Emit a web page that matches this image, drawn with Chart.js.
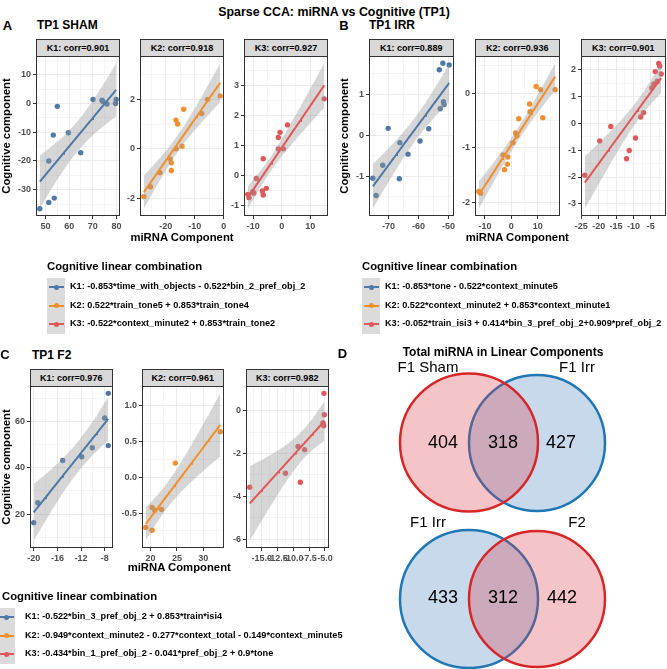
<!DOCTYPE html>
<html>
<head>
<meta charset="utf-8">
<script src="https://cdn.jsdelivr.net/npm/chart.js@4.4.1/dist/chart.umd.min.js"></script>
<style>
  body { margin: 0; width: 667px; height: 669px; position: relative; overflow: hidden; background: #fff; }
  canvas { position: absolute; }
  .t { position: absolute; white-space: nowrap; line-height: 1; color: #000; font-family: "Liberation Sans", Arial, sans-serif; }
  .frame { position: absolute; border: 1px solid #333; box-sizing: border-box; }
  .strip { position: absolute; border: 1px solid #333; box-sizing: border-box; background: #D9D9D9; }
  .key { position: absolute; background: #DBDBDB; }
</style>
</head>
<body>
<script>
'use strict';

var kColors = ['#4E79A7', '#F28E2B', '#E15759'];
var legendTitle = 'Cognitive linear combination';

// TP1 SHAM
var shamCorr = ['K1: corr=0.901', 'K2: corr=0.918', 'K3: corr=0.927'];
var shamK1x = [47.6, 51.4, 53.7, 51.4, 53.3, 55.0, 59.7, 64.9, 70.1, 73.9, 74.3, 76.0, 79.6, 79.9];
var shamK1y = [-36.6, -34.4, -32.9, -20.0, -11.0, -1.0, -10.2, -17.1, 1.4, 1.1, 0.7, -0.2, 0.0, 1.4];
var shamK2x = [-27.6, -25.3, -22.0, -18.5, -18.1, -18.1, -16.5, -15.9, -16.4, -14.4, -13.8, -7.6, -5.6, -1.2];
var shamK2y = [-1.93, -1.53, -0.96, -0.40, -0.56, -0.87, 1.17, 1.01, 0.01, 0.11, 1.61, 1.44, 2.01, 2.15];
var shamK3x = [-11.9, -11.5, -10.1, -9.8, -8.9, -6.5, -6.8, -6.5, -5.4, -1.2, -0.6, -1.2, 0.6, 2.0, 14.9];
var shamK3y = [-0.64, -0.75, -0.55, -0.60, -0.11, 0.55, -0.53, -0.66, -0.44, 1.26, 1.43, 0.88, 0.88, 1.68, 2.55];
var shamXTicks = [['50', '60', '70', '80'], ['-20', '-10', '0'], ['-10', '0', '10']];
var shamYTicks = [['-30', '-20', '-10', '0', '10'], ['-2', '0', '2'], ['-1', '0', '1', '2', '3']];
var shamLegend = [
  'K1: -0.853*time_with_objects - 0.522*bin_2_pref_obj_2',
  'K2: 0.522*train_tone5 + 0.853*train_tone4',
  'K3: -0.522*context_minute2 + 0.853*train_tone2'
];

// TP1 IRR
var irrCorr = ['K1: corr=0.889', 'K2: corr=0.936', 'K3: corr=0.901'];
var irrK1x = [-75.2, -74.1, -71.9, -70.1, -66.2, -66.4, -63.5, -59.5, -56.6, -53.1, -51.9, -52.8, -51.7, -51.5, -49.8];
var irrK1y = [-1.05, -1.47, -0.73, 0.17, -0.18, -1.06, -0.46, -0.14, 0.16, 1.60, 1.76, 0.65, 0.82, 0.75, 1.72];
var irrK2x = [-12.3, -11.6, -3.1, -2.6, -1.5, -1.3, 0.6, 1.6, 2.1, 2.8, 6.9, 7.1, 9.4, 11.1, 11.9, 16.6];
var irrK2y = [-1.80, -1.83, -1.13, -1.40, -1.30, -1.17, -0.91, -0.73, -0.78, -0.47, -0.20, -0.34, 0.12, 0.06, -0.45, 0.06];
var irrK3x = [-24.0, -19.7, -16.5, -12.0, -11.2, -9.4, -7.9, -7.1, -4.7, -4.1, -3.7, -3.1, -2.7, -2.4, -2.0];
var irrK3y = [-1.93, -0.65, -0.11, -1.32, -1.01, -0.54, 0.24, 0.40, 1.33, 1.48, 1.94, 1.58, 2.24, 2.14, 1.85];
var irrXTicks = [['-70', '-60', '-50'], ['-10', '0', '10'], ['-25', '-20', '-15', '-10', '-5']];
var irrYTicks = [['-1', '0', '1'], ['-2', '-1', '0'], ['-3', '-2', '-1', '0', '1', '2']];
var irrLegend = [
  'K1: -0.853*tone - 0.522*context_minute5',
  'K2: 0.522*context_minute2 + 0.853*context_minute1',
  'K3: -0.052*train_isi3 + 0.414*bin_3_pref_obj_2+0.909*pref_obj_2'
];

// TP1 F2
var f2Corr = ['K1: corr=0.976', 'K2: corr=0.961', 'K3: corr=0.982'];
var f2K1x = [-20.0, -19.3, -15.1, -11.9, -10.1, -8.0, -7.4, -7.4];
var f2K1y = [16.3, 24.9, 43.1, 44.7, 48.6, 61.4, 72.0, 49.5];
var f2K2x = [19.1, 20.3, 20.8, 20.3, 22.1, 24.7, 33.2];
var f2K2y = [-0.70, -0.42, -0.46, -0.74, -0.45, 0.20, 0.64];
var f2K3x = [-16.9, -11.25, -9.25, -8.9, -8.2, -5.15, -5.1, -5.2, -5.3];
var f2K3y = [-3.57, -2.92, -1.67, -3.34, -1.82, 0.81, -0.19, -0.70, -0.57];
var f2XTicks = [['-20', '-16', '-12', '-8'], ['20', '25', '30'], ['-15.0', '-12.5', '-10.0', '-7.5', '-5.0']];
var f2YTicks = [['20', '40', '60'], ['-0.5', '0.0', '0.5', '1.0'], ['-6', '-4', '-2', '0']];
var f2Legend = [
  'K1: -0.522*bin_3_pref_obj_2 + 0.853*train*isi4',
  'K2: -0.949*context_minute2 - 0.277*context_total - 0.149*context_minute5',
  'K3: -0.434*bin_1_pref_obj_2 - 0.041*pref_obj_2 + 0.9*tone'
];

// Venn counts: [left only, both, right only]
var vennTopSets = ['F1 Sham', 'F1 Irr'];
var vennTopCounts = [404, 318, 427];
var vennBottomSets = ['F1 Irr', 'F2'];
var vennBottomCounts = [433, 312, 442];

// 97.5% t quantiles by degrees of freedom
var tQuantile = {5: 2.571, 6: 2.447, 7: 2.365, 8: 2.306, 9: 2.262, 10: 2.228,
  11: 2.201, 12: 2.179, 13: 2.160, 14: 2.145, 15: 2.131, 16: 2.120};

Chart.defaults.font.family = '"Liberation Sans", Arial, sans-serif';

var Y_AXIS_W = 30, X_AXIS_H = 22, PAD_TOP = 6, PAD_RIGHT = 12;

var panels = [
  { letter: 'A', title: 'TP1 SHAM', corr: shamCorr, xs: [shamK1x, shamK2x, shamK3x], ys: [shamK1y, shamK2y, shamK3y],
    xTicks: shamXTicks, yTicks: shamYTicks, legend: shamLegend,
    letterPos: [7.5, 24.5], titlePos: [37, 25], stripTop: 39, top: 56, bottom: 216,
    lefts: [36, 140, 244], width: 84, yTitleX: 7, xTitleY: 238,
    legTitleX: 47, legTitleY: 267, keyLeft: 47, keyTop: 278, textLeft: 70 },
  { letter: 'B', title: 'TP1 IRR', corr: irrCorr, xs: [irrK1x, irrK2x, irrK3x], ys: [irrK1y, irrK2y, irrK3y],
    xTicks: irrXTicks, yTicks: irrYTicks, legend: irrLegend,
    letterPos: [344, 25], titlePos: [369, 25], stripTop: 39, top: 56, bottom: 216,
    lefts: [369, 475, 581], width: 84.5, yTitleX: 344.5, xTitleY: 238,
    legTitleX: 362, legTitleY: 267, keyLeft: 362, keyTop: 278, textLeft: 385 },
  { letter: 'C', title: 'TP1 F2', corr: f2Corr, xs: [f2K1x, f2K2x, f2K3x], ys: [f2K1y, f2K2y, f2K3y],
    xTicks: f2XTicks, yTicks: f2YTicks, legend: f2Legend,
    letterPos: [5, 354], titlePos: [32, 355], stripTop: 369, top: 386, bottom: 548,
    lefts: [30, 141.5, 246], width: 82.5, yTitleX: 7, xTitleY: 568,
    legTitleX: 2, legTitleY: 597, keyLeft: -3, keyTop: 608, textLeft: 25 }
];

var vennLayout = [
  { sets: vennTopSets, counts: vennTopCounts, colors: ['red', 'blue'],
    circles: [[469, 442.5, 69], [537, 443, 68]], names: [[428, 368], [577, 368]],
    countPos: [[443, 443], [503, 443], [561, 443]] },
  { sets: vennBottomSets, counts: vennBottomCounts, colors: ['blue', 'red'],
    circles: [[469, 599, 69], [537, 599, 68]], names: [[428, 523], [577, 523]],
    countPos: [[443, 598], [503, 598], [562, 598]] }
];
var vennStyle = {
  red: { fill: 'rgba(220, 60, 75, 0.3)', stroke: '#D62728' },
  blue: { fill: 'rgba(70, 130, 190, 0.3)', stroke: '#1F77B4' }
};

function label(text, x, y, size, weight, align, extra) {
  var d = document.createElement('div');
  d.className = 't';
  d.textContent = text;
  d.style.left = x + 'px';
  d.style.top = y + 'px';
  d.style.fontSize = size + 'px';
  d.style.fontWeight = weight;
  d.style.transform = 'translate(' + (align === 'left' ? '0' : '-50%') + ', -50%)' + (extra || '');
  document.body.appendChild(d);
  return d;
}

function box(cls, left, top, width, height) {
  var d = document.createElement('div');
  d.className = cls;
  d.style.left = left + 'px';
  d.style.top = top + 'px';
  d.style.width = width + 'px';
  d.style.height = height + 'px';
  document.body.appendChild(d);
  return d;
}

// linear fit with 95% confidence band, like geom_smooth(method = "lm")
function lmFit(xs, ys) {
  var n = xs.length, mx = 0, my = 0, sxx = 0, sxy = 0, rss = 0, i;
  for (i = 0; i < n; i++) { mx += xs[i]; my += ys[i]; }
  mx /= n; my /= n;
  for (i = 0; i < n; i++) {
    sxx += (xs[i] - mx) * (xs[i] - mx);
    sxy += (xs[i] - mx) * (ys[i] - my);
  }
  var b = sxy / sxx, a = my - b * mx;
  for (i = 0; i < n; i++) {
    var e = ys[i] - a - b * xs[i];
    rss += e * e;
  }
  var s = Math.sqrt(rss / (n - 2)), t = tQuantile[n - 2];
  var lo = Math.min.apply(null, xs), hi = Math.max.apply(null, xs);
  var fit = { line: [], upper: [], lower: [] };
  for (var k = 0; k < 80; k++) {
    var x = lo + (hi - lo) * k / 79;
    var yh = a + b * x;
    var se = s * Math.sqrt(1 / n + (x - mx) * (x - mx) / sxx);
    fit.line.push({ x: x, y: yh });
    fit.upper.push({ x: x, y: yh + t * se });
    fit.lower.push({ x: x, y: yh - t * se });
  }
  return fit;
}

function expand(vals) {
  var lo = Math.min.apply(null, vals), hi = Math.max.apply(null, vals);
  var d = (hi - lo) * 0.05;
  return [lo - d, hi + d];
}

function tickList(labels, range) {
  var vals = labels.map(Number);
  var step = vals[1] - vals[0];
  var out = labels.map(function(l, i) { return { value: vals[i], lbl: l, minor: false }; });
  for (var v = vals[0] - step / 2; v <= vals[vals.length - 1] + step; v += step) {
    if (v >= range[0] && v <= range[1]) out.push({ value: v, lbl: '', minor: true });
  }
  return out.sort(function(p, q) { return p.value - q.value; });
}

function axisOpts(range, ticks, isX) {
  return {
    type: 'linear', min: range[0], max: range[1],
    afterBuildTicks: function(scale) {
      scale.ticks = ticks.map(function(o) { return { value: o.value, lbl: o.lbl, minor: o.minor }; });
    },
    afterFit: function(scale) {
      if (isX) scale.height = X_AXIS_H; else scale.width = Y_AXIS_W;
      scale.paddingLeft = scale.paddingRight = scale.paddingTop = scale.paddingBottom = 0;
    },
    border: { display: false },
    grid: {
      color: '#EBEBEB',
      lineWidth: function(c) { return c.tick && c.tick.minor ? 0.5 : 1; },
      tickColor: function(c) { return c.tick && c.tick.minor ? 'rgba(0,0,0,0)' : '#333'; },
      tickWidth: 1, tickLength: 3
    },
    ticks: {
      autoSkip: false, maxRotation: 0, minRotation: 0, padding: 2,
      color: '#4D4D4D', font: { size: 9, weight: 'bold' },
      callback: function(v, i, all) { return all[i].lbl; }
    }
  };
}

function makePlot(p, k) {
  var left = p.lefts[k], w = p.width, h = p.bottom - p.top;
  var xs = p.xs[k], ys = p.ys[k], color = kColors[k];
  var fit = lmFit(xs, ys);
  var xRange = expand(xs);
  var yRange = expand(ys.concat(fit.upper.map(function(o) { return o.y; }), fit.lower.map(function(o) { return o.y; })));
  var pts = xs.map(function(x, i) { return { x: x, y: ys[i] }; });

  var cv = document.createElement('canvas');
  cv.width = w + Y_AXIS_W + PAD_RIGHT;
  cv.height = h + X_AXIS_H + PAD_TOP;
  cv.style.left = (left - Y_AXIS_W) + 'px';
  cv.style.top = (p.top - PAD_TOP) + 'px';
  document.body.appendChild(cv);

  new Chart(cv, {
    type: 'scatter',
    data: {
      datasets: [
        { type: 'line', data: fit.line, borderColor: color, borderWidth: 2, pointRadius: 0, fill: false },
        { type: 'line', data: fit.upper, borderColor: 'rgba(0,0,0,0)', borderWidth: 0, pointRadius: 0,
          fill: '+1', backgroundColor: 'rgba(153,153,153,0.4)' },
        { type: 'line', data: fit.lower, borderColor: 'rgba(0,0,0,0)', borderWidth: 0, pointRadius: 0, fill: false },
        { type: 'scatter', data: pts, pointRadius: 2.7, backgroundColor: color, borderWidth: 0 }
      ]
    },
    options: {
      responsive: false, animation: false, events: [],
      layout: { padding: { top: PAD_TOP, right: PAD_RIGHT, left: 0, bottom: 0 } },
      plugins: { legend: { display: false }, tooltip: { enabled: false } },
      scales: {
        x: axisOpts(xRange, tickList(p.xTicks[k], xRange), true),
        y: axisOpts(yRange, tickList(p.yTicks[k], yRange), false)
      }
    }
  });

  box('frame', left, p.top, w, h);
  box('strip', left, p.stripTop, w, p.top - p.stripTop + 1);
  label(p.corr[k], left + w / 2, (p.stripTop + p.top) / 2 + 0.5, 9, 'bold', 'center');
}

function makeLegend(p) {
  label(legendTitle, p.legTitleX, p.legTitleY, 11.3, 'bold', 'left');
  box('key', p.keyLeft, p.keyTop, 18, 18.5 * p.legend.length);
  p.legend.forEach(function(txt, i) {
    var cy = p.keyTop + 9.25 + 18.5 * i;
    var ln = box('t', p.keyLeft + 1.5, cy - 1, 15, 2);
    ln.style.background = kColors[i];
    var dot = box('t', p.keyLeft + 6.5, cy - 2.5, 5, 5);
    dot.style.background = kColors[i];
    dot.style.borderRadius = '50%';
    label(txt, p.textLeft, cy, 9.15, 'bold', 'left');
  });
}

label('Sparse CCA: miRNA vs Cognitive (TP1)', 334, 12, 12.4, 'bold', 'center');

panels.forEach(function(p) {
  label(p.letter, p.letterPos[0], p.letterPos[1], 13, 'bold', 'center');
  label(p.title, p.titlePos[0], p.titlePos[1], 12, 'bold', 'left');
  for (var k = 0; k < 3; k++) makePlot(p, k);
  label('Cognitive component', p.yTitleX, (p.top + p.bottom) / 2, 11.3, 'bold', 'center', ' rotate(-90deg)');
  label('miRNA Component', (p.lefts[0] + p.lefts[2] + p.width) / 2, p.xTitleY, 11.3, 'bold', 'center');
  makeLegend(p);
});

// Panel D: Venn diagrams, circle radius converted through the x scale
var vcv = document.createElement('canvas');
vcv.width = 324;
vcv.height = 329;
vcv.style.left = '343px';
vcv.style.top = '340px';
vcv.style.background = '#fff';
document.body.appendChild(vcv);

function circleRadius(ctx) {
  var s = ctx.chart.scales.x;
  if (!ctx.raw || !s || !(s.width > 0)) return 0;
  return s.getPixelForValue(ctx.raw.x + ctx.raw.rad) - s.getPixelForValue(ctx.raw.x);
}

var vennSets = [];
['red', 'blue'].forEach(function(col) {
  vennLayout.forEach(function(v) {
    v.circles.forEach(function(c, i) {
      if (v.colors[i] === col) {
        vennSets.push({
          type: 'scatter',
          data: [{ x: c[0], y: c[1], rad: c[2] }],
          pointBackgroundColor: vennStyle[col].fill,
          pointBorderColor: vennStyle[col].stroke,
          pointBorderWidth: 2.5,
          pointRadius: circleRadius
        });
      }
    });
  });
});

var vennText = {
  id: 'vennText',
  afterDatasetsDraw: function(chart) {
    var ctx = chart.ctx, sx = chart.scales.x, sy = chart.scales.y;
    ctx.save();
    ctx.fillStyle = '#000';
    ctx.textAlign = 'center';
    ctx.textBaseline = 'middle';
    vennLayout.forEach(function(v) {
      ctx.font = '15px "Liberation Sans", Arial, sans-serif';
      v.sets.forEach(function(name, i) {
        ctx.fillText(name, sx.getPixelForValue(v.names[i][0]), sy.getPixelForValue(v.names[i][1]));
      });
      ctx.font = '18px "Liberation Sans", Arial, sans-serif';
      v.counts.forEach(function(n, i) {
        ctx.fillText(String(n), sx.getPixelForValue(v.countPos[i][0]), sy.getPixelForValue(v.countPos[i][1]));
      });
    });
    ctx.restore();
  }
};

new Chart(vcv, {
  type: 'scatter',
  data: { datasets: vennSets },
  options: {
    responsive: false, animation: false, events: [],
    layout: { padding: 0, autoPadding: false },
    plugins: { legend: { display: false }, tooltip: { enabled: false } },
    scales: {
      x: { type: 'linear', min: 343, max: 667, display: false },
      y: { type: 'linear', min: 340, max: 669, reverse: true, display: false }
    }
  },
  plugins: [vennText]
});

label('D', 342.5, 353, 13, 'bold', 'center');
label('Total miRNA in Linear Components', 503, 352, 12, 'bold', 'center');
</script>
</body>
</html>
